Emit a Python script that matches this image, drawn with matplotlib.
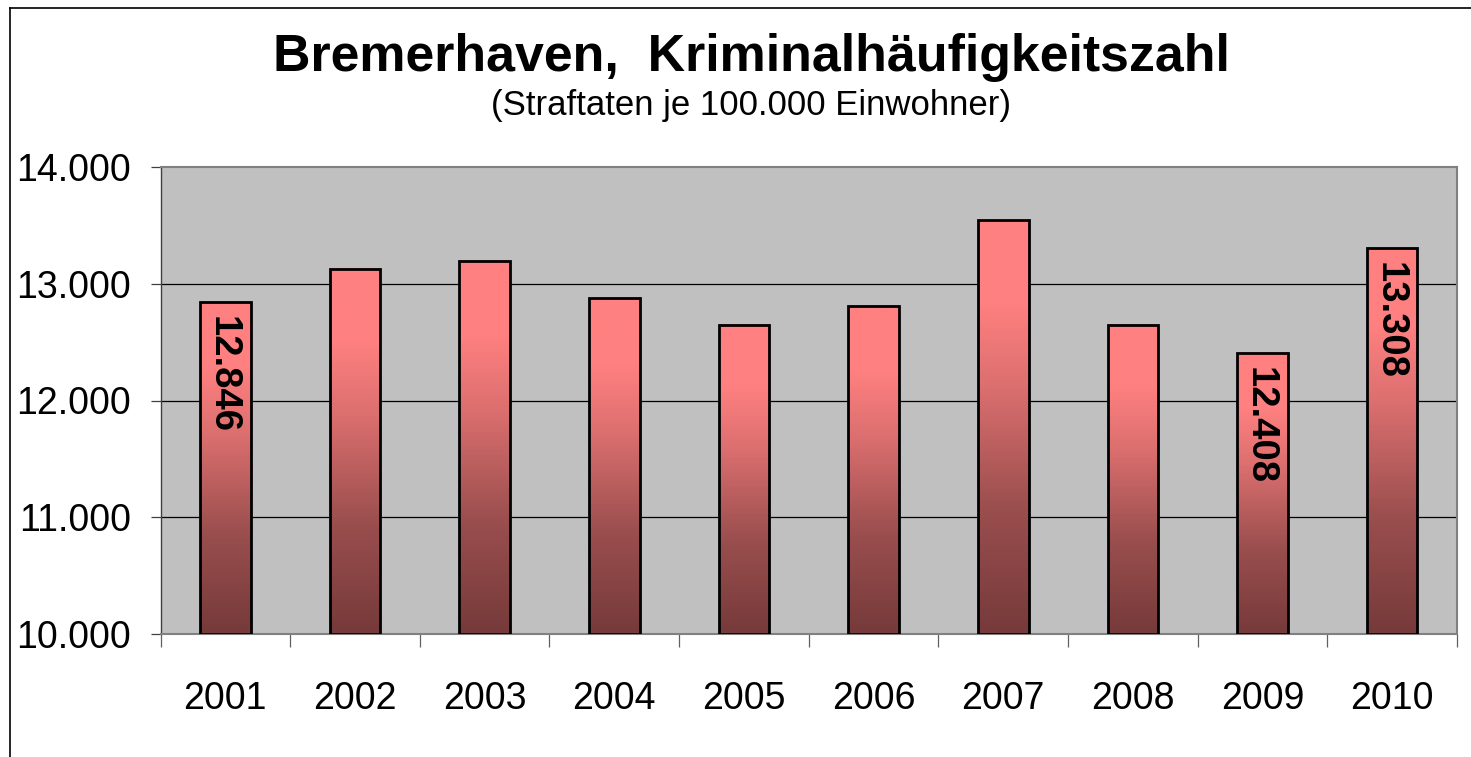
import matplotlib
matplotlib.use("Agg")
import matplotlib.pyplot as plt
import numpy as np
from matplotlib.colors import LinearSegmentedColormap
from matplotlib.lines import Line2D
from matplotlib.ticker import FixedLocator, FuncFormatter

plt.rcParams['font.family'] = ['Liberation Sans', 'DejaVu Sans']

years = ['2001', '2002', '2003', '2004', '2005', '2006', '2007', '2008', '2009', '2010']
values = [12846, 13130, 13198, 12876, 12648, 12810, 13542, 12648, 12408, 13308]
labeled_years = ['2001', '2009', '2010']
yticks = [10000, 11000, 12000, 13000, 14000]
title = 'Bremerhaven,  Kriminalhäufigkeitszahl'
subtitle = '(Straftaten je 100.000 Einwohner)'

W, H = 1471, 757
fig = plt.figure(figsize=(W / 100, H / 100), dpi=100)
ax = fig.add_axes([160.5 / W, 1 - 634 / H, (1457 - 160.5) / W, (634 - 167) / H])
ax.set_facecolor('#C0C0C0')

ymin, ymax = 10000, 14000

cmap = LinearSegmentedColormap.from_list(
    'bar', [(0.0, '#763A3A'), (0.3, '#9A4E4E'), (0.6, '#DC6F6F'), (0.8, '#FF8080'), (1.0, '#FF8080')])
grad = np.linspace(0, 1, 256).reshape(-1, 1)

bw = 0.39
x = np.arange(len(years))
for xi, v in zip(x, values):
    ax.imshow(grad, extent=[xi - bw / 2, xi + bw / 2, ymin, v], origin='lower',
              aspect='auto', cmap=cmap, zorder=2, interpolation='bilinear')
ax.bar(x, [v - ymin for v in values], bottom=ymin, width=bw,
       facecolor='none', edgecolor='black', linewidth=2.0, zorder=3)
ax.set_xlim(-0.5, len(years) - 0.5)
ax.set_ylim(ymin, ymax)

for xi, y, v in zip(x, years, values):
    if y in labeled_years:
        lab = f"{v:,.0f}".replace(',', '.')
        ax.annotate(lab, xy=(xi, v), xytext=(-2, -10), textcoords='offset points',
                    rotation=270, ha='center', va='top', fontsize=27.5,
                    fontweight='bold', zorder=4)

for t in yticks[1:-1]:
    ax.axhline(t, color='black', linewidth=0.9, zorder=1)

ax.set_yticks(yticks)
ax.yaxis.set_major_formatter(FuncFormatter(lambda v, p: f"{v:,.0f}".replace(',', '.')))
ax.tick_params(axis='y', direction='out', length=7.5, width=0.9, color='#404040',
               labelsize=27, pad=14)

ax.set_xticks(x)
ax.set_xticklabels(years)
ax.xaxis.set_minor_locator(FixedLocator(np.arange(-0.5, len(years), 1.0)))
ax.tick_params(axis='x', which='major', length=0, labelsize=27, pad=34)
ax.tick_params(axis='x', which='minor', direction='out', length=9.5, width=0.9, color='#606060')

for s in ['top', 'right', 'bottom']:
    ax.spines[s].set_color('#808080')
    ax.spines[s].set_linewidth(1.5)
ax.spines['left'].set_color('#404040')
ax.spines['left'].set_linewidth(1.0)

fig.text(751 / W, 1 - 71 / H, title, ha='center', va='baseline', fontsize=37.4, fontweight='bold')
fig.text(751 / W, 1 - 115 / H, subtitle, ha='center', va='baseline', fontsize=25)

x0, y0 = 10 / W, 1 - 8 / H
fig.add_artist(Line2D([x0, x0], [0, y0], color='black', linewidth=1.2, transform=fig.transFigure))
fig.add_artist(Line2D([x0, 1], [y0, y0], color='black', linewidth=1.2, transform=fig.transFigure))

fig.savefig('out.png', dpi=100)
